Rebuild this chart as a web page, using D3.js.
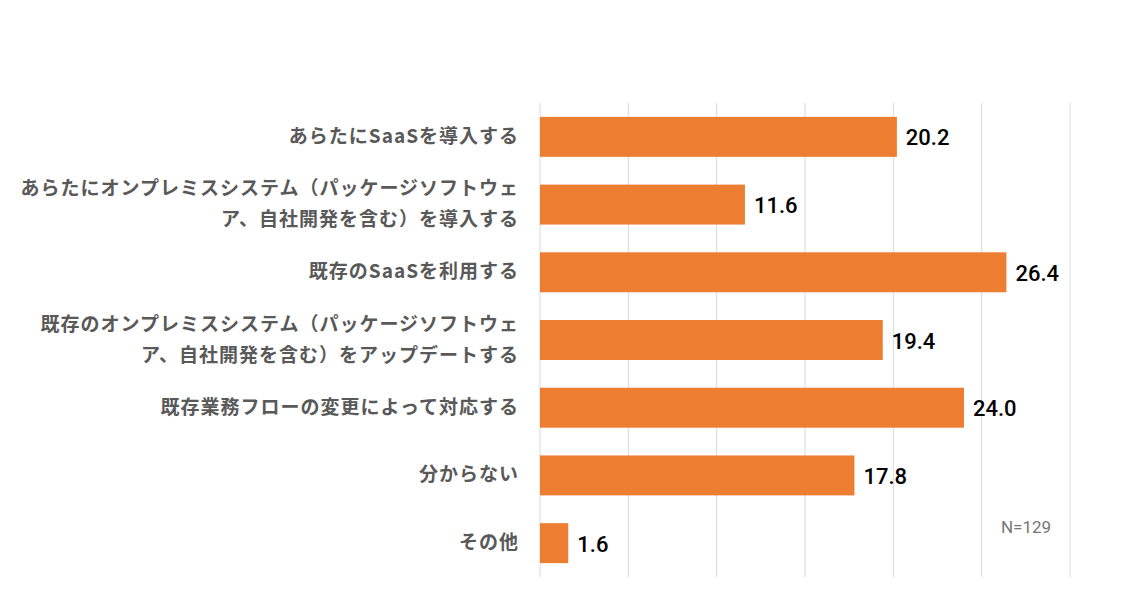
<!DOCTYPE html>
<html lang="ja">
<head>
<meta charset="utf-8">
<script src="https://d3js.org/d3.v7.min.js"></script>
<style>
  body { margin: 0; background: #fff; }
  svg { display: block; }
  .cat { font-family: "Noto Sans CJK JP", sans-serif; font-weight: bold; font-size: 19px; letter-spacing: 1px; fill: #595959; }
  .val { font-family: Roboto, "Liberation Sans", sans-serif; font-weight: 500; font-size: 22px; fill: #000; }
  .note { font-family: Roboto, "Liberation Sans", sans-serif; font-size: 17px; fill: #767676; }
</style>
</head>
<body>
<script>
// 項目（改行は配列で）
var categories = [
  ["あらたにSaaSを導入する"],
  ["あらたにオンプレミスシステム（パッケージソフトウェ", "ア、自社開発を含む）を導入する"],
  ["既存のSaaSを利用する"],
  ["既存のオンプレミスシステム（パッケージソフトウェ", "ア、自社開発を含む）をアップデートする"],
  ["既存業務フローの変更によって対応する"],
  ["分からない"],
  ["その他"]
];
var values = [20.2, 11.6, 26.4, 19.4, 24.0, 17.8, 1.6];
var ticks = [0, 5, 10, 15, 20, 25, 30];
var note = "N=129";

var width = 1145, height = 613;
// window.top と衝突しないように名前を変える
var plotL = 540, plotR = 1070, plotT = 103, plotB = 577;

var svg = d3.select("body").append("svg").attr("width", width).attr("height", height);

var x = d3.scaleLinear().domain([0, 30]).range([plotL, plotR]);
var y = d3.scaleBand().domain(d3.range(values.length)).range([plotT, plotB]).paddingInner(0.41).paddingOuter(0.205);

// 縦グリッド線
svg.append("g").selectAll("line")
  .data(ticks)
  .enter().append("line")
  .attr("x1", function(d){ return x(d); })
  .attr("x2", function(d){ return x(d); })
  .attr("y1", plotT).attr("y2", plotB)
  .attr("stroke", "#d9d9d9").attr("stroke-width", 1);

// 棒
svg.append("g").selectAll("rect")
  .data(values)
  .enter().append("rect")
  .attr("x", x(0))
  .attr("y", function(d, i){ return y(i); })
  .attr("width", function(d){ return x(d) - x(0); })
  .attr("height", y.bandwidth())
  .attr("fill", "#ED7D31");

// 数値ラベル
svg.append("g").selectAll("text")
  .data(values)
  .enter().append("text")
  .attr("class", "val")
  .attr("x", function(d){ return x(d) + 9; })
  .attr("y", function(d, i){ return y(i) + y.bandwidth() / 2 + 8.5; })
  .text(function(d){ return d.toFixed(1); });

// 項目ラベル
var lineH = 31;
var cat = svg.append("g").selectAll("text")
  .data(categories)
  .enter().append("text")
  .attr("class", "cat")
  .attr("text-anchor", "end")
  .attr("y", function(d, i){ return y(i) + y.bandwidth() / 2 + 6 - (d.length - 1) * lineH / 2; });
cat.selectAll("tspan")
  .data(function(d){ return d; })
  .enter().append("tspan")
  .attr("x", 519)
  .attr("dy", function(d, j){ return j === 0 ? 0 : lineH; })
  .text(function(d){ return d; });

// N数
svg.append("text")
  .attr("class", "note")
  .attr("x", 1026).attr("y", 533)
  .attr("text-anchor", "middle")
  .text(note);
</script>
</body>
</html>
